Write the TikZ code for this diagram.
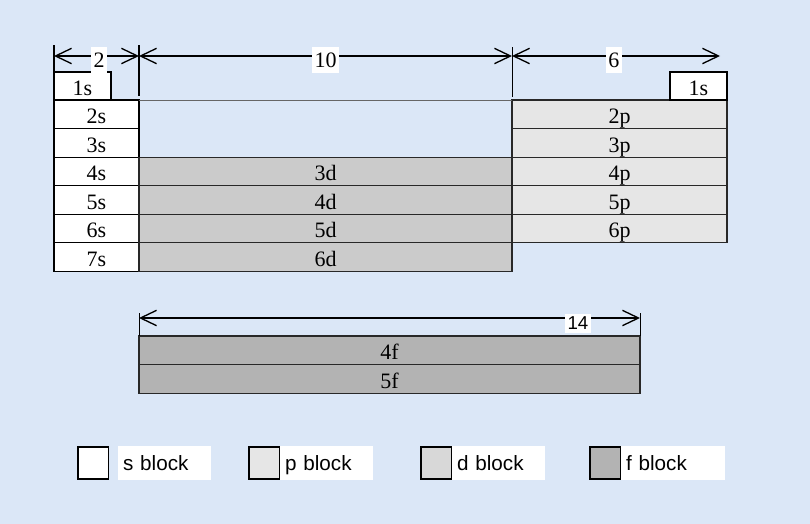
\documentclass[tikz,border=0pt]{standalone}
\usepackage{fontspec}
\setmainfont{Liberation Serif}
\newfontfamily\keyfont{Liberation Sans}
\usetikzlibrary{arrows.meta, positioning}

\definecolor{bgblue}{RGB}{219,231,247}
\definecolor{pfill}{RGB}{230,230,230}
\definecolor{dfill}{RGB}{203,203,203}
\definecolor{ffill}{RGB}{179,179,179}
\definecolor{dkey}{RGB}{216,216,216}
\definecolor{edge}{RGB}{40,40,40}

\begin{document}
\begin{tikzpicture}[
    x=0.75pt, y=-0.75pt,
    node distance=0pt,
    cell/.style={rectangle, draw=edge, line width=0.8pt, outer sep=0pt, inner sep=0pt,
                 minimum height=21.4pt, text height=14pt, text depth=0pt,
                 font=\fontsize{16.5}{18}\selectfont},
    sbox/.style={cell, fill=white, draw=black, minimum width=63.75pt},
    sone/.style={cell, fill=white, draw=black, minimum width=42.75pt, minimum height=21pt},
    pbox/.style={cell, fill=pfill, minimum width=161.25pt},
    dbox/.style={cell, fill=dfill, minimum width=279.75pt},
    fbox/.style={cell, fill=ffill, minimum width=375.75pt},
    tick/.style={line width=0.8pt, black},
    dimarrow/.style={{Straight Barb[length=12pt, width=11.5pt, line width=1pt]}-{Straight Barb[length=12pt, width=11.5pt, line width=1pt]},
                     line width=0.8pt},
    dimlabel/.style={fill=white, inner xsep=2pt, inner ysep=4pt, yshift=-3pt,
                     font=\fontsize{16.5}{18}\selectfont},
    keybox/.style={rectangle, draw=black, line width=0.8pt, outer sep=0pt,
                   minimum width=23pt, minimum height=24pt},
    keylabel/.style={fill=white, inner xsep=4pt, inner ysep=0pt, outer sep=0pt,
                     minimum height=25pt, text width=62pt, align=left,
                     text height=11.3pt, text depth=0pt,
                     font=\keyfont\fontsize{15.5}{17}\selectfont}
]

% background
\fill[bgblue] (0,0) rectangle (810,524);
\useasboundingbox (0,0) rectangle (810,524);

% === S BLOCK ===
\node[sbox, anchor=north west] (s2) at (54,100) {2s};
\node[sbox, below=of s2] (s3) {3s};
\node[sbox, below=of s3] (s4) {4s};
\node[sbox, below=of s4] (s5) {5s};
\node[sbox, below=of s5] (s6) {6s};
\node[sbox, below=of s6] (s7) {7s};
\node[sone, anchor=south west] (s1) at (s2.north west) {1s\hspace{8pt}};

% === D BLOCK ===
\node[dbox, right=of s4] (d3) {3d};
\node[dbox, right=of s5] (d4) {4d};
\node[dbox, right=of s6] (d5) {5d};
\node[dbox, right=of s7] (d6) {6d};

% === P BLOCK ===
\node[pbox, anchor=north west] (p2) at (512,100) {2p};
\node[pbox, below=of p2] (p3) {3p};
\node[pbox, below=of p3] (p4) {4p};
\node[pbox, below=of p4] (p5) {5p};
\node[pbox, below=of p5] (p6) {6p};
\node[sone, anchor=south east] (h1) at (p2.north east) {1s\hspace{6pt}};

\draw[line width=0.6pt, black!60] (s2.north east) -- (p2.north west);

% === F BLOCK ===
\node[fbox, anchor=north west] (f4) at (139,336) {4f};
\node[fbox, below=of f4] (f5) {5f};

% === DIMENSIONS ===
\coordinate (w0) at (54,56);
\coordinate (w1) at (139,56);
\coordinate (w2) at (512,56);
\coordinate (w3) at (720,56);
\draw[tick, line width=1.4pt] (s1.north west) -- ++(0,-27);
\draw[tick, line width=1.4pt] ([yshift=3pt]s2.north east) -- ++(0,-51);
\draw[tick, line width=0.6pt] ([yshift=2.25pt]p2.north west) -- ++(0,-50);
\draw[dimarrow] (w0) -- node[dimlabel, pos=0.53] {2} (w1);
\draw[dimarrow] (w1) -- node[dimlabel] {10} (w2);
\draw[dimarrow] (w2) -- node[dimlabel, pos=0.49] {6} (w3);

\coordinate (e0) at (139,318);
\coordinate (e1) at (640,318);
\draw[tick, line width=0.6pt] (f4.north west) -- ++(0,-23);
\draw[tick, line width=0.6pt] (f4.north east) -- ++(0,-23);
\draw[dimarrow] (e0) -- node[pos=0.876, fill=white, inner xsep=2pt, inner ysep=2.5pt, yshift=-4pt,
    font=\keyfont\fontsize{14}{16}\selectfont] {14} (e1);

% === KEY ===
\node[keybox, fill=white, anchor=north west] (ks) at (78,447) {};
\node[keylabel, right=6.75pt of ks] (ls) {s block};
\node[keybox, fill=pfill, anchor=north west] (kp) at (249,447) {};
\node[keylabel, right=of kp] (lp) {p block};
\node[keybox, fill=dkey, anchor=north west] (kd) at (421,447) {};
\node[keylabel, right=of kd] (ld) {d block};
\node[keybox, fill=ffill, anchor=north west] (kf) at (590,447) {};
\node[keylabel, right=of kf, text width=70pt] (lf) {f block};

\end{tikzpicture}
\end{document}
